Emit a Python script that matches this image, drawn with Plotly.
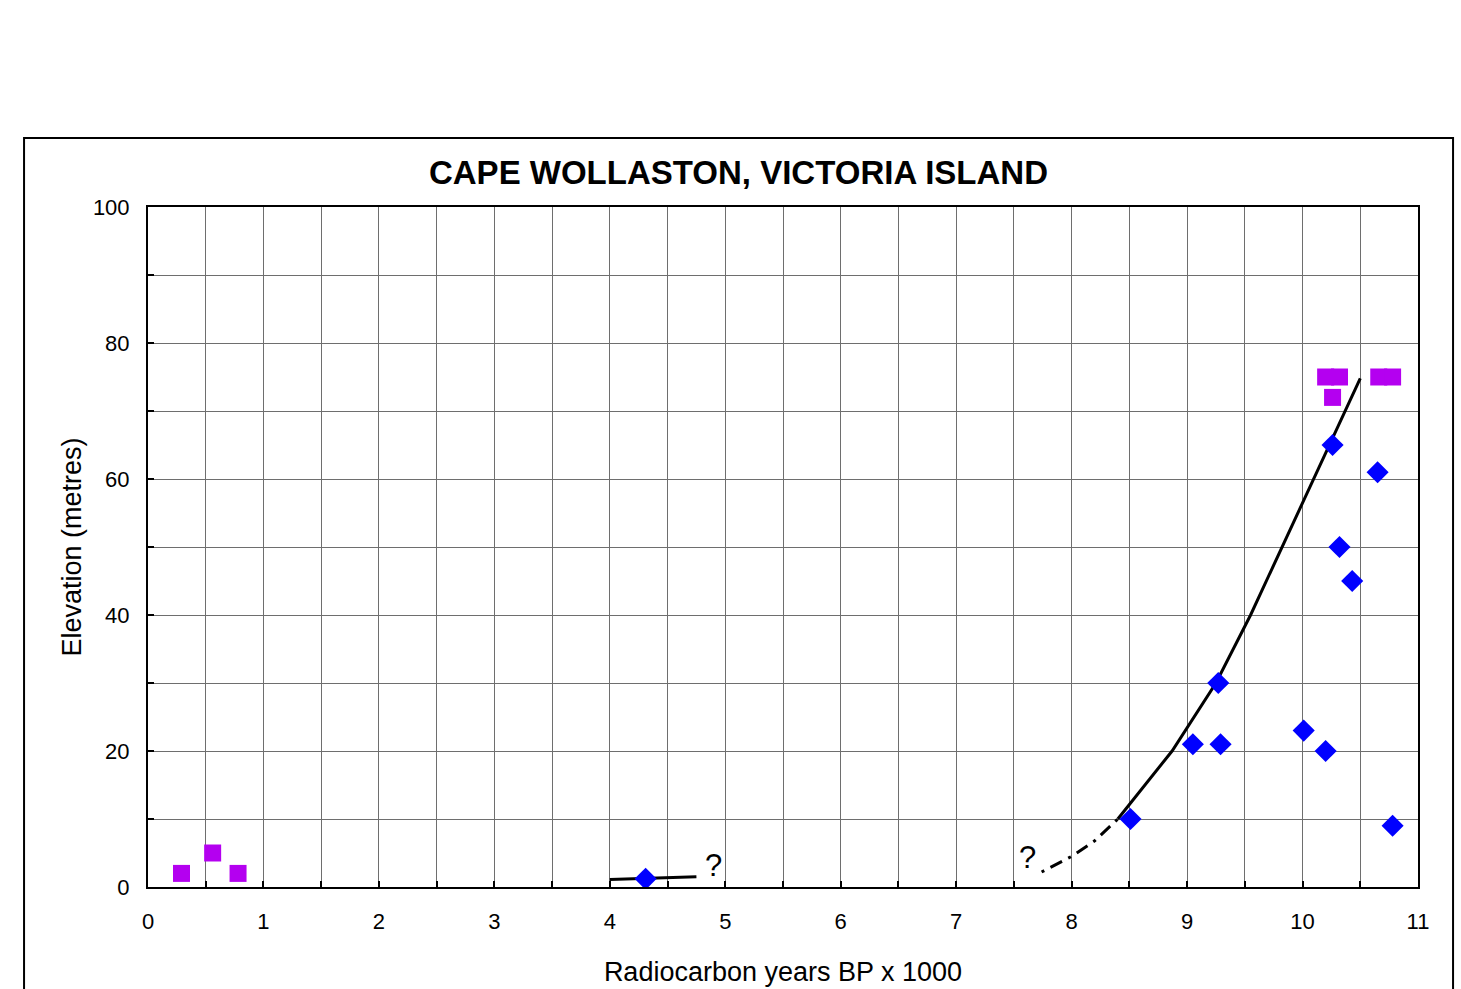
import plotly.graph_objects as go

# Data
purple_x = [0.29, 0.56, 0.78, 10.20, 10.32, 10.26, 10.66, 10.78]
purple_y = [2, 5, 2, 75, 75, 72, 75, 75]

blue_x = [4.31, 8.51, 9.05, 9.29, 9.27, 10.01, 10.20, 10.78, 10.26, 10.65, 10.32, 10.43]
blue_y = [1.2, 10, 21, 21, 30, 23, 20, 9, 65, 61, 50, 45]

curve_x = [8.40, 8.87, 9.25, 9.55, 10.50]
curve_y = [10, 20, 30, 40, 74.8]

dash_x = [7.74, 8.00, 8.20, 8.40]
dash_y = [2.2, 4.5, 6.8, 10]

short_x = [4.00, 4.75]
short_y = [1.1, 1.5]

q_x = [4.9, 7.62]
q_y = [3.1, 4.3]

FONT = "Liberation Sans, Arial, sans-serif"

fig = go.Figure()
fig.add_trace(go.Scatter(x=curve_x, y=curve_y, mode="lines",
                         line=dict(color="black", width=3), hoverinfo="skip"))
fig.add_trace(go.Scatter(x=dash_x, y=dash_y, mode="lines",
                         line=dict(color="black", width=3, dash="3px,7px,13px,7px"), hoverinfo="skip"))
fig.add_trace(go.Scatter(x=short_x, y=short_y, mode="lines",
                         line=dict(color="black", width=3), hoverinfo="skip"))
fig.add_trace(go.Scatter(x=purple_x, y=purple_y, mode="markers",
                         marker=dict(symbol="square", size=17, color="#b400f0")))
fig.add_trace(go.Scatter(x=blue_x, y=blue_y, mode="markers",
                         marker=dict(symbol="diamond", size=17, color="#0000ff")))

for qx, qy in zip(q_x, q_y):
    fig.add_annotation(x=qx, y=qy, text="?", showarrow=False,
                       font=dict(family=FONT, size=31, color="black"))

fig.add_shape(type="rect", xref="paper", yref="paper",
              x0=-0.0976, x1=1.0276, y0=-0.2, y1=1.1015,
              line=dict(color="black", width=2), layer="below")

fig.update_layout(
    width=1461, height=989,
    margin=dict(l=148, r=43, t=207, b=102),
    paper_bgcolor="white", plot_bgcolor="white",
    showlegend=False,
    font=dict(family=FONT, color="black"),
    title=dict(text="<b>CAPE WOLLASTON, VICTORIA ISLAND</b>",
               font=dict(family=FONT, size=33, color="black"),
               x=738.5 / 1461, xanchor="center", xref="container",
               y=1 - 172 / 989, yanchor="middle"),
    xaxis=dict(range=[0, 11], dtick=1, tick0=0, automargin=False,
               showgrid=True, gridcolor="#6e6e6e", gridwidth=1,
               showline=True, linecolor="black", linewidth=2, mirror=True,
               ticks="inside", ticklen=6, tickwidth=2, tickcolor="black",
               tickfont=dict(family=FONT, size=22),
               ticklabelstandoff=14,
               zeroline=False,
               minor=dict(dtick=0.5, showgrid=True, gridcolor="#6e6e6e", gridwidth=1,
                          ticks="inside", ticklen=6, tickwidth=2, tickcolor="black"),
               title=dict(text="Radiocarbon years BP x 1000",
                          font=dict(family=FONT, size=27), standoff=29)),
    yaxis=dict(range=[0, 100], dtick=20, tick0=0, automargin=False,
               showgrid=True, gridcolor="#6e6e6e", gridwidth=1,
               showline=True, linecolor="black", linewidth=2, mirror=True,
               ticks="inside", ticklen=6, tickwidth=2, tickcolor="black",
               tickfont=dict(family=FONT, size=22),
               ticklabelstandoff=12,
               zeroline=False,
               minor=dict(dtick=10, showgrid=True, gridcolor="#6e6e6e", gridwidth=1,
                          ticks="inside", ticklen=6, tickwidth=2, tickcolor="black"),
               title=dict(text="Elevation (metres)",
                          font=dict(family=FONT, size=27), standoff=3)),
)

fig.write_html("out.html")
